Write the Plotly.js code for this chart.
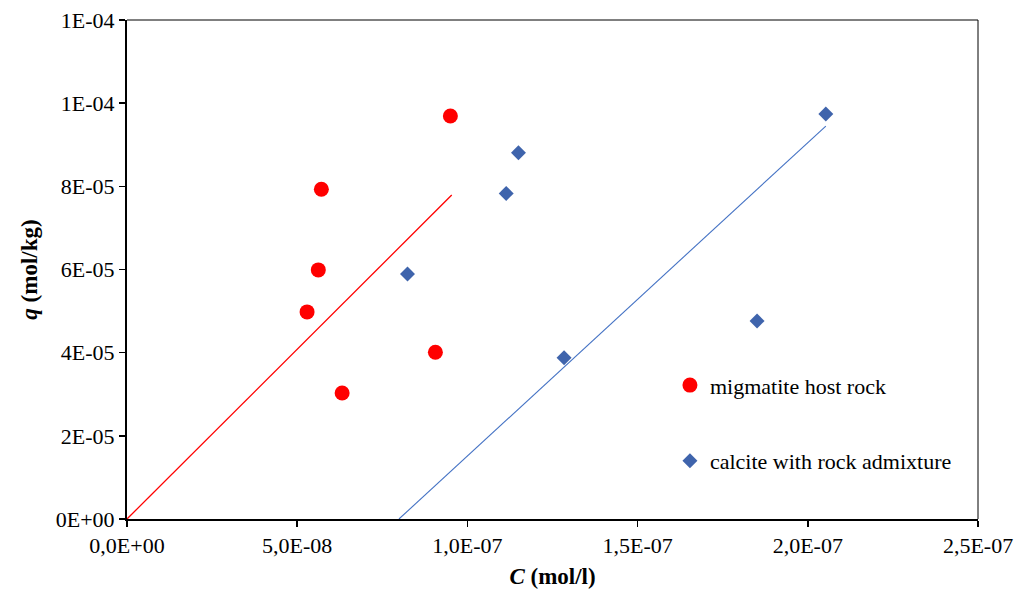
<!DOCTYPE html>
<html>
<head>
<meta charset="utf-8">
<script src="https://cdn.plot.ly/plotly-3.0.1.min.js"></script>
<style>html,body{margin:0;padding:0;background:#fff;}#chart{width:1031px;height:594px;}</style>
</head>
<body>
<div id="chart"></div>
<script>
// migmatite host rock
const migC = [9.50e-8, 5.71e-8, 5.62e-8, 5.29e-8, 9.06e-8, 6.32e-8];
const migQ = [9.69e-5, 7.93e-5, 5.99e-5, 4.98e-5, 4.01e-5, 3.03e-5];
// calcite with rock admixture
const calC = [2.053e-7, 1.150e-7, 1.114e-7, 8.24e-8, 1.284e-7, 1.851e-7];
const calQ = [9.74e-5, 8.81e-5, 7.83e-5, 5.89e-5, 3.88e-5, 4.76e-5];
// fitted lines
const migLineC = [0, 9.54e-8];
const migLineQ = [0, 7.79e-5];
const calLineC = [7.99e-8, 2.053e-7];
const calLineQ = [0, 9.45e-5];
// ticks
const xTickVals = [0, 5e-8, 1e-7, 1.5e-7, 2e-7, 2.5e-7];
const xTickText = ["0,0E+00", "5,0E-08", "1,0E-07", "1,5E-07", "2,0E-07", "2,5E-07"];
const yTickVals = [0, 2e-5, 4e-5, 6e-5, 8e-5, 1e-4, 1.2e-4];
const yTickText = ["0E+00", "2E-05", "4E-05", "6E-05", "8E-05", "1E-04", "1E-04"];

const FONT = "Liberation Serif, Times New Roman, serif";

const traces = [
  {x: migLineC, y: migLineQ, mode: "lines", line: {color: "#FF0000", width: 1.3}, showlegend: false, hoverinfo: "skip"},
  {x: calLineC, y: calLineQ, mode: "lines", line: {color: "#4472C4", width: 1.1}, showlegend: false, hoverinfo: "skip"},
  {x: migC, y: migQ, mode: "markers", name: "migmatite host rock", legendgroup: "a",
   marker: {symbol: "circle", size: 15, color: "#FF0000"}},
  {x: calC, y: calQ, mode: "markers", name: "calcite with rock admixture", legendgroup: "b",
   marker: {symbol: "diamond", size: 11.5, color: "#3F64AC"}}
];

const layout = {
  width: 1031, height: 594,
  margin: {l: 127, r: 53, t: 20, b: 75},
  paper_bgcolor: "#fff", plot_bgcolor: "#fff",
  font: {family: FONT, size: 22, color: "#000"},
  xaxis: {
    range: [0, 2.5e-7], tickvals: xTickVals, ticktext: xTickText,
    showgrid: false, zeroline: false, showline: true, linecolor: "#000", linewidth: 2,
    ticks: "outside", ticklen: 6, tickwidth: 1.5, tickcolor: "#000",
    tickfont: {family: FONT, size: 22},
    title: {text: "<b><i>C</i> (mol/l)</b>", font: {family: FONT, size: 23}, standoff: 10}
  },
  yaxis: {
    range: [0, 1.2e-4], tickvals: yTickVals, ticktext: yTickText,
    showgrid: false, zeroline: false, showline: true, linecolor: "#000", linewidth: 2,
    ticks: "outside", ticklen: 6, tickwidth: 1.5, tickcolor: "#000",
    tickfont: {family: FONT, size: 22},
    title: {text: "<b><i>q</i> (mol/kg)</b>", font: {family: FONT, size: 23}, standoff: 12}
  },
  shapes: [
    {type: "line", xref: "paper", yref: "paper", x0: 0, x1: 1, y0: 1, y1: 1, line: {color: "#000", width: 1}},
    {type: "line", xref: "paper", yref: "paper", x0: 1, x1: 1, y0: 0, y1: 1, line: {color: "#000", width: 1}}
  ],
  legend: {
    x: 0.638, y: 0.31, xanchor: "left", yanchor: "top",
    traceorder: "grouped", tracegroupgap: 44,
    font: {family: FONT, size: 22, color: "#000"},
    bgcolor: "rgba(0,0,0,0)", borderwidth: 0, itemwidth: 30
  },
  showlegend: true
};

Plotly.newPlot("chart", traces, layout, {displayModeBar: false, staticPlot: true});
</script>
</body>
</html>
